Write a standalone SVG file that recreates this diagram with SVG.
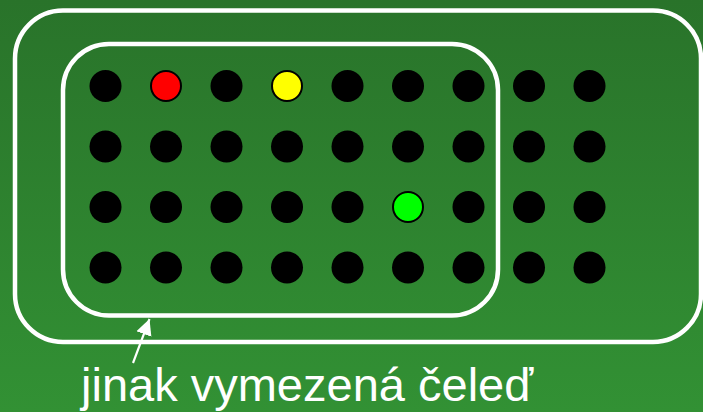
<svg xmlns="http://www.w3.org/2000/svg" width="703" height="412" viewBox="0 0 703 412">
<defs>
<linearGradient id="bg" x1="0" y1="0" x2="0" y2="1">
<stop offset="0" stop-color="#29732a"/>
<stop offset="1" stop-color="#329134"/>
</linearGradient>
<marker id="ah" markerUnits="userSpaceOnUse" markerWidth="18" markerHeight="18" refX="16" refY="8" orient="auto" viewBox="0 0 18 16">
<path d="M0,0 L16,8 L0,16 Z" fill="#fff"/>
</marker>
<style>
.frame{fill:none;stroke:#fff;stroke-width:4.5}
.dot{fill:#000}
.cdot{stroke:#000;stroke-width:2}
.lbl{font-family:"Liberation Sans",Arial,sans-serif;font-size:47px;fill:#fff}
</style>
</defs>
<rect width="703" height="412" fill="url(#bg)"/>
<g id="outer"><rect class="frame" x="15" y="10.5" width="686" height="331.5" rx="48" ry="48"/></g>
<g id="inner"><rect class="frame" x="63" y="44" width="435" height="271.5" rx="46" ry="46"/></g>
<g id="dots">
<g id="row1">
<circle class="dot" cx="105.5" cy="86" r="16"/>
<circle class="cdot" cx="166" cy="86" r="15" fill="#ff0000"/>
<circle class="dot" cx="226.5" cy="86" r="16"/>
<circle class="cdot" cx="287" cy="86" r="15" fill="#ffff00"/>
<circle class="dot" cx="347.5" cy="86" r="16"/>
<circle class="dot" cx="408" cy="86" r="16"/>
<circle class="dot" cx="468.5" cy="86" r="16"/>
<circle class="dot" cx="529" cy="86" r="16"/>
<circle class="dot" cx="589.5" cy="86" r="16"/>
</g>
<g id="row2">
<circle class="dot" cx="105.5" cy="146.5" r="16"/>
<circle class="dot" cx="166" cy="146.5" r="16"/>
<circle class="dot" cx="226.5" cy="146.5" r="16"/>
<circle class="dot" cx="287" cy="146.5" r="16"/>
<circle class="dot" cx="347.5" cy="146.5" r="16"/>
<circle class="dot" cx="408" cy="146.5" r="16"/>
<circle class="dot" cx="468.5" cy="146.5" r="16"/>
<circle class="dot" cx="529" cy="146.5" r="16"/>
<circle class="dot" cx="589.5" cy="146.5" r="16"/>
</g>
<g id="row3">
<circle class="dot" cx="105.5" cy="207" r="16"/>
<circle class="dot" cx="166" cy="207" r="16"/>
<circle class="dot" cx="226.5" cy="207" r="16"/>
<circle class="dot" cx="287" cy="207" r="16"/>
<circle class="dot" cx="347.5" cy="207" r="16"/>
<circle class="cdot" cx="408" cy="207" r="15" fill="#00ff00"/>
<circle class="dot" cx="468.5" cy="207" r="16"/>
<circle class="dot" cx="529" cy="207" r="16"/>
<circle class="dot" cx="589.5" cy="207" r="16"/>
</g>
<g id="row4">
<circle class="dot" cx="105.5" cy="267.5" r="16"/>
<circle class="dot" cx="166" cy="267.5" r="16"/>
<circle class="dot" cx="226.5" cy="267.5" r="16"/>
<circle class="dot" cx="287" cy="267.5" r="16"/>
<circle class="dot" cx="347.5" cy="267.5" r="16"/>
<circle class="dot" cx="408" cy="267.5" r="16"/>
<circle class="dot" cx="468.5" cy="267.5" r="16"/>
<circle class="dot" cx="529" cy="267.5" r="16"/>
<circle class="dot" cx="589.5" cy="267.5" r="16"/>
</g>
</g>
<g id="connectors">
<line x1="133" y1="363" x2="149.5" y2="319" stroke="#fff" stroke-width="2.2" marker-end="url(#ah)"/>
</g>
<g id="label"><text class="lbl" x="81" y="401">jinak vymezená čeleď</text></g>
</svg>
